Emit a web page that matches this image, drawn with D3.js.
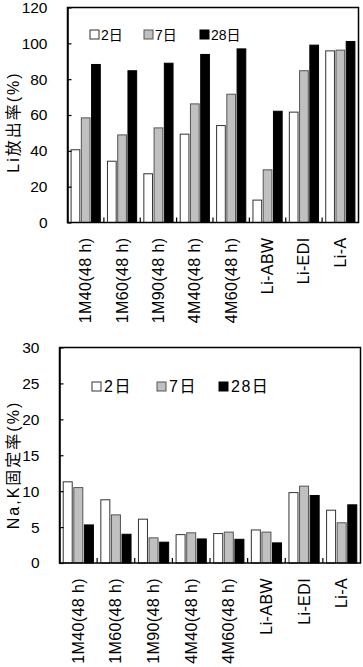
<!DOCTYPE html>
<html>
<head>
<meta charset="utf-8">
<script src="https://cdn.jsdelivr.net/npm/d3@7"></script>
<style>
  body { margin: 0; background: #fff; }
  svg { display: block; font-family: "Liberation Sans", Arial, "Noto Sans CJK JP", sans-serif; }
</style>
</head>
<body>
<svg id="chart" width="363" height="667"></svg>
<script>
// samples / series
var categories = ["1M40(48 h)", "1M60(48 h)", "1M90(48 h)", "4M40(48 h)", "4M60(48 h)", "Li-ABW", "Li-EDI", "Li-A"];
var seriesNames = ["2日", "7日", "28日"];

// Li release rate (%)
var release2d = [40.6, 34.2, 27.2, 49.3, 54.1, 12.5, 61.6, 95.8];
var release7d = [58.4, 48.9, 52.8, 66.2, 71.6, 29.4, 84.7, 96.2];
var release28d = [88.2, 84.7, 88.9, 93.8, 96.9, 62.1, 99.0, 101.0];
var releaseTicks = [0, 20, 40, 60, 80, 100, 120];

// Na,K fixation rate (%)
var fix2d = [11.3, 8.8, 6.1, 3.95, 4.1, 4.6, 9.8, 7.35];
var fix7d = [10.5, 6.7, 3.5, 4.2, 4.3, 4.3, 10.7, 5.6];
var fix28d = [5.3, 4.0, 2.9, 3.35, 3.3, 2.8, 9.4, 8.1];
var fixTicks = [0, 5, 10, 15, 20, 25, 30];

var fills = ["#ffffff", "#c0c0c0", "#000000"];
var strokes = ["#333333", "#555555", "#000000"];

var svg = d3.select("#chart");

function drawChart(o) {
  var g = svg.append("g");

  var x = d3.scaleBand()
    .domain(categories)
    .range([o.left, o.right])
    .padding(0);

  var xs = d3.scaleBand()
    .domain(d3.range(seriesNames.length))
    .range([0, x.bandwidth()])
    .paddingInner(0.15)
    .paddingOuter(0.35);

  var y = d3.scaleLinear()
    .domain([0, o.max])
    .range([o.bottom, o.top]);

  // bars
  o.series.forEach(function(vals, si) {
    g.selectAll(".bar" + si)
      .data(vals)
      .enter()
      .append("rect")
      .attr("x", function(d, i) { return x(categories[i]) + xs(si); })
      .attr("y", function(d) { return y(d); })
      .attr("width", xs.bandwidth())
      .attr("height", function(d) { return o.bottom - y(d); })
      .attr("fill", fills[si])
      .attr("stroke", strokes[si])
      .attr("stroke-width", 1);
  });

  // frame
  g.append("rect")
    .attr("x", o.left)
    .attr("y", o.top)
    .attr("width", o.right - o.left)
    .attr("height", o.bottom - o.top)
    .attr("fill", "none")
    .attr("stroke", "#000")
    .attr("stroke-width", 1.5);

  // y axis, ticks point inward
  var yAxis = d3.axisLeft(y)
    .tickValues(o.ticks)
    .tickSizeInner(-4)
    .tickSizeOuter(0)
    .tickPadding(20);

  var ya = g.append("g")
    .attr("transform", "translate(" + o.left + ",0)")
    .call(yAxis);
  ya.select(".domain").attr("stroke-width", 1.5);
  ya.selectAll(".tick line").attr("stroke-width", 1.2);
  ya.selectAll(".tick text")
    .attr("font-size", 15.5)
    .attr("fill", "#000")
    .style("font-family", "Liberation Sans, Arial, sans-serif");

  // x group separators (inward ticks between groups)
  var sep = categories.slice(1).map(function(c) { return x(c); });
  g.selectAll(".sep")
    .data(sep)
    .enter()
    .append("line")
    .attr("x1", function(d) { return d; })
    .attr("x2", function(d) { return d; })
    .attr("y1", o.bottom)
    .attr("y2", o.bottom - 5)
    .attr("stroke", "#000")
    .attr("stroke-width", 1.2);

  // x labels, rotated
  g.selectAll(".xlab")
    .data(categories)
    .enter()
    .append("text")
    .attr("transform", function(d) {
      return "translate(" + (x(d) + x.bandwidth() / 2) + "," + (o.bottom + 15) + ") rotate(-90)";
    })
    .attr("text-anchor", "end")
    .attr("dominant-baseline", "central")
    .attr("font-size", 16)
    .attr("letter-spacing", 0.4)
    .text(function(d) { return d; });

  // y title
  g.append("text")
    .attr("transform", "translate(" + o.titleX + "," + o.titleY + ") rotate(-90)")
    .attr("text-anchor", "middle")
    .attr("dominant-baseline", "central")
    .attr("font-size", 16)
    .attr("letter-spacing", o.titleSpacing)
    .text(o.title);

  // legend
  seriesNames.forEach(function(name, si) {
    var lx = o.legendX[si];
    g.append("rect")
      .attr("x", lx)
      .attr("y", o.legendY - 4.5)
      .attr("width", 9)
      .attr("height", 9)
      .attr("fill", fills[si])
      .attr("stroke", strokes[si])
      .attr("stroke-width", 1);
    g.append("text")
      .attr("x", lx + o.legendGap)
      .attr("y", o.legendY)
      .attr("dominant-baseline", "central")
      .attr("font-size", o.legendFont)
      .attr("letter-spacing", o.legendSpacing)
      .text(name);
  });
}

drawChart({
  left: 67.5, right: 358.5, top: 7.5, bottom: 222.5,
  max: 120, ticks: releaseTicks,
  series: [release2d, release7d, release28d],
  title: "Li放出率(%)", titleX: 13, titleY: 122, titleSpacing: 2,
  legendX: [90, 144, 200], legendY: 34.5, legendFont: 14, legendGap: 11, legendSpacing: 0
});

drawChart({
  left: 59.5, right: 360.5, top: 347.5, bottom: 563,
  max: 30, ticks: fixTicks,
  series: [fix2d, fix7d, fix28d],
  title: "Na,K固定率(%)", titleX: 13, titleY: 465, titleSpacing: 2,
  legendX: [92, 157, 219], legendY: 386.5, legendFont: 16, legendGap: 12, legendSpacing: 1.5
});
</script>
</body>
</html>
